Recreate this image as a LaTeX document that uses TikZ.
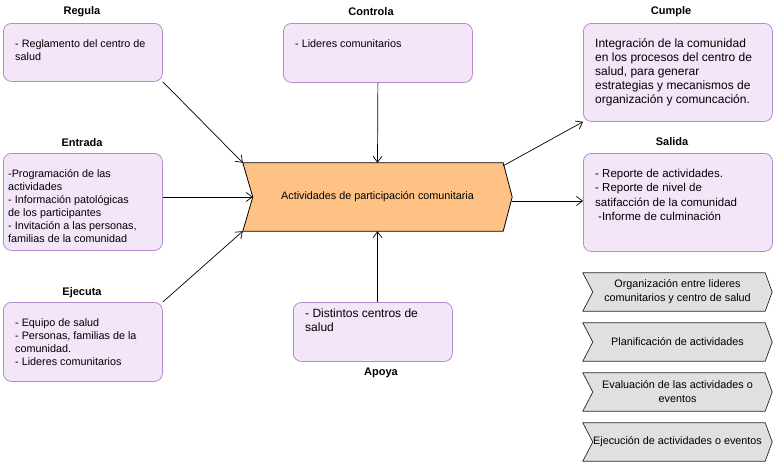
\documentclass[tikz,border=0pt]{standalone}
\usepackage{fontspec}
\setmainfont{Liberation Sans}
\usetikzlibrary{arrows.meta}
\definecolor{pfill}{HTML}{F4E6F9}
\definecolor{pdraw}{HTML}{B48CC8}
\definecolor{ofill}{HTML}{FFC285}
\definecolor{gfill}{HTML}{E0E0E0}
\pgfdeclarelayer{bg}
\pgfsetlayers{bg,main}
\begin{document}
\begin{tikzpicture}[x=1pt,y=-1pt,
  pbox/.style={draw=pdraw, fill=pfill, rounded corners=8pt, anchor=north west, inner sep=0pt, line width=0.8pt},
  ttl/.style={font=\fontsize{11}{13}\selectfont\bfseries, inner sep=0pt},
  txt/.style={anchor=north west, inner sep=0pt, align=left},
  stxt/.style={txt, font=\fontsize{10.8}{13}\selectfont},
  btxt/.style={txt, font=\fontsize{12}{14}\selectfont},
  arr/.style={-{Straight Barb[length=6pt,width=9pt]}, line width=0.7pt},
  chevtxt/.style={inner sep=0pt, align=center, minimum width=189pt, minimum height=38pt, font=\fontsize{10.8}{14}\selectfont},
  chevline/.style={draw=black!85, fill=gfill, line width=0.7pt}
]
\useasboundingbox (0,0) rectangle (776,466);

% titles
\node[ttl] (tReg) at (82,12) {Regula};
\node[ttl] (tEnt) at (82,143) {Entrada};
\node[ttl] (tEje) at (82,293) {Ejecuta};
\node[ttl] (tCon) at (371,12) {Controla};
\node[ttl] (tCum) at (671,12) {Cumple};
\node[ttl] (tSal) at (672,142) {Salida};
\node[ttl] (tApo) at (381,373) {Apoya};

% boxes
\node[pbox, minimum width=159pt, minimum height=58pt] (reg) at (3,23) {};
\node[pbox, minimum width=159pt, minimum height=97pt] (ent) at (3,153) {};
\node[pbox, minimum width=159pt, minimum height=79pt] (eje) at (3,302) {};
\node[pbox, minimum width=189pt, minimum height=59pt] (con) at (283,23) {};
\node[pbox, minimum width=159pt, minimum height=59pt] (apo) at (293,302) {};
\node[pbox, minimum width=189pt, minimum height=98pt] (cum) at (583,23) {};
\node[pbox, minimum width=189pt, minimum height=98pt] (sal) at (583,153) {};

% box texts
\node[stxt] (regt) at (15,36) {\rule{0pt}{10.8pt}- Reglamento del centro de\\salud};
\node[stxt] (entt) at (8,166) {\rule{0pt}{10.8pt}-Programación de las\\actividades\\- Información patológicas\\de los participantes\\- Invitación a las personas,\\familias de la comunidad};
\node[stxt] (ejet) at (15,315) {\rule{0pt}{10.8pt}- Equipo de salud\\- Personas, familias de la\\comunidad.\\- Lideres comunitarios};
\node[stxt] (cont) at (295,36) {\rule{0pt}{10.8pt}- Lideres comunitarios};
\node[btxt] (apot) at (305,305.5) {\rule{0pt}{12pt}- Distintos centros de\\salud};
\node[btxt] (cumt) at (595,35.5) {\rule{0pt}{12pt}Integración de la comunidad\\en los procesos del centro de\\salud, para generar\\estrategias y mecanismos de\\organización y comuncación.};
\node[txt, font=\fontsize{11.5}{14.2}\selectfont] (salt) at (595,166) {\rule{0pt}{11.5pt}- Reporte de actividades.\\- Reporte de nivel de\\satifacción de la comunidad\\\hspace{3pt}-Informe de culminación};

% central chevron
\node[inner sep=0pt, minimum width=269pt, minimum height=68pt, font=\fontsize{10.8}{13}\selectfont] (act) at (377.5,197) {Actividades de participación comunitaria};
\begin{pgfonlayer}{bg}
\draw[fill=ofill, line width=0.8pt] (act.north west) -- ([xshift=-9pt]act.north east) -- (act.east) -- ([xshift=-9pt]act.south east) -- (act.south west) -- ([xshift=10pt]act.west) -- cycle;
\end{pgfonlayer}

% gray chevrons
\node[chevtxt] (g1) at (677.5,292) {Organización entre lideres\\comunitarios y centro de salud};
\node[chevtxt] (g2) at (677.5,342) {Planificación de actividades};
\node[chevtxt] (g3) at (677.5,392) {Evaluación de las actividades o\\eventos};
\node[chevtxt] (g4) at (677.5,442) {Ejecución de actividades o eventos};
\begin{pgfonlayer}{bg}
\foreach \g in {g1,g2,g3,g4}{
  \draw[chevline] (\g.north west) -- ([xshift=-7pt]\g.north east) -- (\g.east) -- ([xshift=-7pt]\g.south east) -- (\g.south west) -- ([xshift=10pt]\g.west) -- cycle;
}
\end{pgfonlayer}

% connectors
\draw[arr] (reg.south east) -- (act.north west);
\draw[arr] (ent.east |- act.west) -- ([xshift=10pt]act.west);
\draw[arr] (eje.north east) -- (act.south west);
\draw[arr] (con.south) -- (act.north);
\draw[arr] (apo.north -| act.south) -- (act.south);
\draw[arr] ([xshift=-9pt,yshift=-3pt]act.north east) -- (cum.south west);
\draw[arr] ([yshift=-4pt]act.east) -- ([yshift=-4pt]act.east -| sal.west);
\end{tikzpicture}
\end{document}
